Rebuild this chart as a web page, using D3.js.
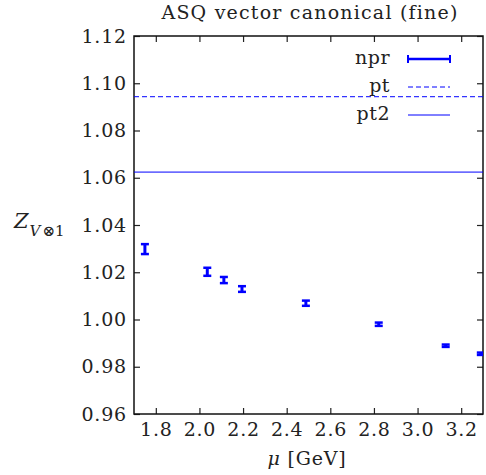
<!DOCTYPE html>
<html>
<head>
<meta charset="utf-8">
<script src="https://cdn.jsdelivr.net/npm/d3@7"></script>
<style>
  body { margin: 0; background: #fff; }
  text { font-family: "DejaVu Serif", "Liberation Serif", serif; fill: #222; }
</style>
</head>
<body>
<div id="chart"></div>
<script>
const width = 486;
const height = 475;
const margin = { top: 36, right: 3, bottom: 61, left: 134 };

// npr data points (mu in GeV, Z value, error)
const mu = [1.750, 2.036, 2.112, 2.195, 2.488, 2.822, 3.129, 3.290];
const zv = [1.0298, 1.0202, 1.0167, 1.0129, 1.0069, 0.9980, 0.9889, 0.9855];
const zErr = [0.0021, 0.0017, 0.0013, 0.0012, 0.0011, 0.0007, 0.0005, 0.0005];

// perturbative values
const ptValue = 1.0943;
const pt2Value = 1.0624;

const xTicks = [1.8, 2.0, 2.2, 2.4, 2.6, 2.8, 3.0, 3.2];
const yTicks = [0.96, 0.98, 1.00, 1.02, 1.04, 1.06, 1.08, 1.10, 1.12];
const legendLabels = ["npr", "pt", "pt2"];

const blue = "#0000ff";

const svg = d3.select("#chart")
    .append("svg")
    .attr("width", width)
    .attr("height", height);

const x = d3.scaleLinear().domain([1.7, 3.3]).range([margin.left, width - margin.right]);
const y = d3.scaleLinear().domain([0.96, 1.12]).range([height - margin.bottom, margin.top]);

const plotW = width - margin.right - margin.left;
const plotH = height - margin.bottom - margin.top;

svg.append("defs").append("clipPath").attr("id", "clip")
    .append("rect")
    .attr("x", margin.left).attr("y", margin.top)
    .attr("width", plotW).attr("height", plotH);

// axes with inward ticks
const axBottom = svg.append("g")
    .attr("transform", `translate(0,${height - margin.bottom})`)
    .call(d3.axisBottom(x).tickValues(xTicks).tickFormat(d3.format(".1f")).tickSizeInner(-6).tickSizeOuter(0).tickPadding(9));
const axTop = svg.append("g")
    .attr("transform", `translate(0,${margin.top})`)
    .call(d3.axisTop(x).tickValues(xTicks).tickFormat("").tickSizeInner(-6).tickSizeOuter(0));
const axLeft = svg.append("g")
    .attr("transform", `translate(${margin.left},0)`)
    .call(d3.axisLeft(y).tickValues(yTicks).tickFormat(d3.format(".2f")).tickSizeInner(-6).tickSizeOuter(0).tickPadding(7));
const axRight = svg.append("g")
    .attr("transform", `translate(${width - margin.right},0)`)
    .call(d3.axisRight(y).tickValues(yTicks).tickFormat("").tickSizeInner(-6).tickSizeOuter(0));

[axBottom, axTop, axLeft, axRight].forEach(g => {
    g.select(".domain").remove();
    g.selectAll(".tick line").attr("stroke", "#222").attr("stroke-width", 1.2);
    g.selectAll(".tick text").style("font-size", "19px").style("letter-spacing", "0.8px").attr("fill", "#222");
});

// frame
svg.append("rect")
    .attr("x", margin.left).attr("y", margin.top)
    .attr("width", plotW).attr("height", plotH)
    .attr("fill", "none").attr("stroke", "#111").attr("stroke-width", 1.5);

const plot = svg.append("g").attr("clip-path", "url(#clip)");

// pt lines
plot.append("line")
    .attr("x1", margin.left).attr("x2", width - margin.right)
    .attr("y1", y(ptValue)).attr("y2", y(ptValue))
    .attr("stroke", blue).attr("stroke-width", 1).attr("stroke-dasharray", "5,3");
plot.append("line")
    .attr("x1", margin.left).attr("x2", width - margin.right)
    .attr("y1", y(pt2Value)).attr("y2", y(pt2Value))
    .attr("stroke", blue).attr("stroke-width", 1);

// error bars
const pts = mu.map((m, i) => ({ m, v: zv[i], e: zErr[i] }));
const bars = plot.selectAll(".eb").data(pts).enter().append("g").attr("class", "eb");
bars.append("line")
    .attr("x1", d => x(d.m)).attr("x2", d => x(d.m))
    .attr("y1", d => y(d.v - d.e)).attr("y2", d => y(d.v + d.e))
    .attr("stroke", blue).attr("stroke-width", 3);
bars.append("line")
    .attr("x1", d => x(d.m) - 4).attr("x2", d => x(d.m) + 4)
    .attr("y1", d => y(d.v - d.e)).attr("y2", d => y(d.v - d.e))
    .attr("stroke", blue).attr("stroke-width", 2.5);
bars.append("line")
    .attr("x1", d => x(d.m) - 4).attr("x2", d => x(d.m) + 4)
    .attr("y1", d => y(d.v + d.e)).attr("y2", d => y(d.v + d.e))
    .attr("stroke", blue).attr("stroke-width", 2.5);

// legend
const legend = svg.append("g");
const legY = [59, 87, 115];
legendLabels.forEach((lab, i) => {
    legend.append("text")
        .attr("x", 390).attr("y", legY[i] + 5)
        .attr("text-anchor", "end")
        .style("font-size", "19px")
        .style("letter-spacing", "0.5px")
        .text(lab);
});
legend.append("line").attr("x1", 408).attr("x2", 450).attr("y1", legY[0]).attr("y2", legY[0])
    .attr("stroke", blue).attr("stroke-width", 2.5);
[408, 450].forEach(xx => legend.append("line")
    .attr("x1", xx).attr("x2", xx).attr("y1", legY[0] - 4).attr("y2", legY[0] + 4)
    .attr("stroke", blue).attr("stroke-width", 2));
legend.append("line").attr("x1", 408).attr("x2", 450).attr("y1", legY[1]).attr("y2", legY[1])
    .attr("stroke", blue).attr("stroke-width", 1).attr("stroke-dasharray", "5,3");
legend.append("line").attr("x1", 408).attr("x2", 450).attr("y1", legY[2]).attr("y2", legY[2])
    .attr("stroke", blue).attr("stroke-width", 1);

// title
svg.append("text")
    .attr("x", 310).attr("y", 19)
    .attr("text-anchor", "middle")
    .style("font-size", "19px")
    .style("letter-spacing", "1.2px")
    .text("ASQ vector canonical (fine)");

// x label
const xl = svg.append("text")
    .attr("x", 307).attr("y", 465)
    .attr("text-anchor", "middle")
    .style("font-size", "19px")
    .style("letter-spacing", "0.8px");
xl.append("tspan").style("font-style", "italic").text("μ");
xl.append("tspan").text(" [GeV]");

// y label
const yl = svg.append("text")
    .attr("x", 14).attr("y", 228)
    .style("font-size", "21px");
yl.append("tspan").style("font-style", "italic").text("Z");
yl.append("tspan").attr("dy", 8).attr("dx", 1).style("font-size", "15px").style("font-style", "italic").text("V");
yl.append("tspan").attr("dx", 2).style("font-size", "15px").text("⊗1");
</script>
</body>
</html>
